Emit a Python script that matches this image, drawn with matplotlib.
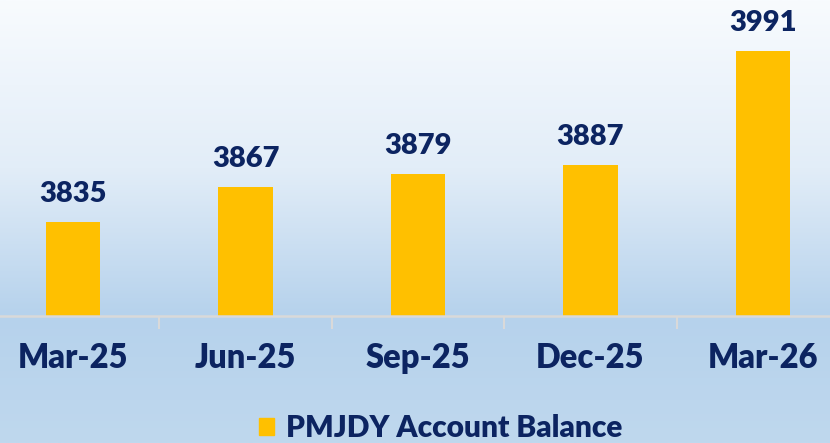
import matplotlib
matplotlib.use("Agg")
import matplotlib.pyplot as plt
import numpy as np
from matplotlib.patches import Patch
from matplotlib.colors import LinearSegmentedColormap

categories = ["Mar-25", "Jun-25", "Sep-25", "Dec-25", "Mar-26"]
values = [3835, 3867, 3879, 3887, 3991]
series_name = "PMJDY Account Balance"

W, H = 830, 443
fig = plt.figure(figsize=(W / 100, H / 100), dpi=100)

# background gradient
bg = fig.add_axes([0, 0, 1, 1], zorder=0)
bg.axis("off")
cmap = LinearSegmentedColormap.from_list(
    "bg", [(0.0, "#F8FBFE"), (0.38, "#E2EDF8"), (0.71, "#B6D2EC"), (1.0, "#BFD8EE")])
grad = np.linspace(0, 1, 256).reshape(-1, 1)
bg.imshow(grad, aspect="auto", cmap=cmap, extent=[0, 1, 1, 0])
bg.set_xlim(0, 1)
bg.set_ylim(1, 0)

navy = "#0C2461"
fw = "heavy"
ax = fig.add_axes([-13 / W, (H - 316) / H, 862 / W, 316 / H], zorder=1)
ax.patch.set_alpha(0)
x = np.arange(len(categories))
ax.bar(x, values, width=0.315, color="#FFC000", zorder=2)
ax.set_xlim(-0.5, len(categories) - 0.5)
ax.set_ylim(3750, 4037)
for xi, v in zip(x, values):
    ax.annotate(f"{v}", (xi, v), xytext=(0, 14.4), textcoords="offset points",
                ha="center", va="baseline", fontsize=21, fontweight=fw,
                color=navy, family="Lato")
for s in ["top", "left", "right"]:
    ax.spines[s].set_visible(False)
ax.spines["bottom"].set_color("#D9D9D9")
ax.spines["bottom"].set_linewidth(1.8)
ax.set_yticks([])
ax.set_xticks(x)
ax.set_xticklabels(categories, fontsize=23.5, fontweight=fw, color=navy, family="Lato")
ax.tick_params(axis="x", which="major", length=0, pad=19)
ax.set_xticks(np.arange(-0.5, len(categories), 1), minor=True)
ax.tick_params(axis="x", which="minor", length=9, width=1.5, color="#D9D9D9")

fig.legend(handles=[Patch(color="#FFC000", label=series_name)],
           loc="center", bbox_to_anchor=(441 / W, 1 - 428 / H), frameon=False,
           prop={"family": "Lato", "weight": fw, "size": 21.5},
           labelcolor=navy, handlelength=0.5, handleheight=0.5, handletextpad=0.4)

fig.savefig("out.png", dpi=100)
